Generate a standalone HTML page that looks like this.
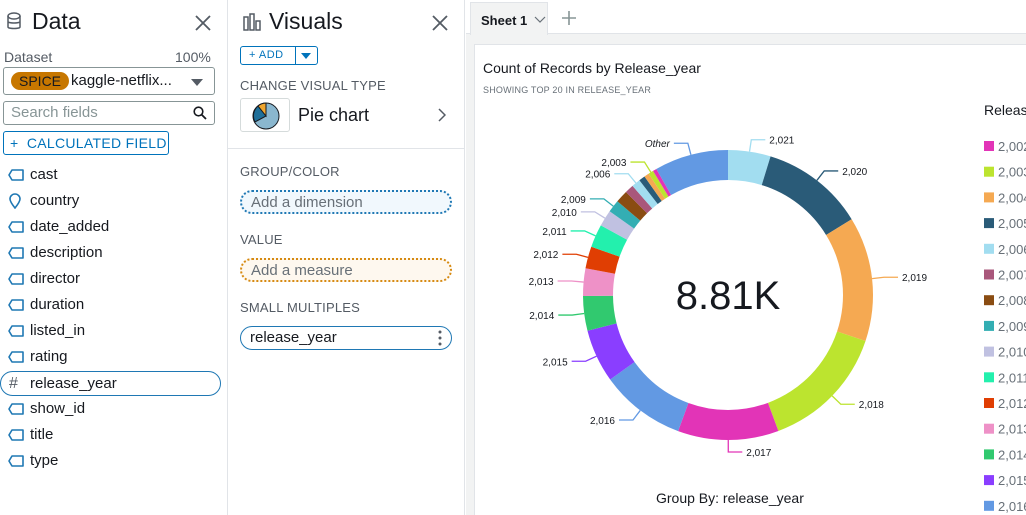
<!DOCTYPE html>
<html><head><meta charset="utf-8">
<style>
*{box-sizing:border-box;margin:0;padding:0}
html,body{width:1026px;height:515px;overflow:hidden}
body{background:#fff;font-family:"Liberation Sans",sans-serif;color:#16191f;position:relative}
.abs{position:absolute}
.field{position:absolute;left:8px;font-size:15px;height:24px;line-height:24px;width:213px;padding-left:22px}
.field svg{position:absolute;left:0;top:6px}
.lbl{font-size:13px;color:#545b64;letter-spacing:.2px}
.well{position:absolute;left:240px;width:212px;height:24px;border-radius:12px;font-size:15px;line-height:21px;padding-left:9px;color:#687078}
</style></head><body>
<svg width="0" height="0" style="position:absolute"><defs><symbol id="tag" viewBox="0 0 16 12"><path d="M4 1H15V11H4L1 6Z" fill="none" stroke="#1f78b4" stroke-width="1.6" stroke-linejoin="round"/></symbol></defs></svg>
<!-- Data panel -->
<div class="abs" style="left:0;top:0;width:228px;height:515px;border-right:1px solid #e1e4e8">
 <svg class="abs" style="left:6px;top:12px" width="18" height="20"><ellipse cx="8" cy="4" rx="6" ry="3" fill="none" stroke="#545b64" stroke-width="1.5"/><path d="M2 4v11c0 2 12 2 12 0V4M2 9.5c0 2 12 2 12 0" fill="none" stroke="#545b64" stroke-width="1.5"/></svg>
 <div class="abs" style="left:32px;top:8px;font-size:23px">Data</div>
 <svg class="abs" style="left:195px;top:15px" width="16" height="16"><path d="M1 1L15 15M15 1L1 15" stroke="#545b64" stroke-width="1.8"/></svg>
 <div class="abs" style="left:4px;top:49px;font-size:14px;color:#545b64">Dataset</div>
 <div class="abs" style="left:175px;top:49px;font-size:14px;color:#545b64">100%</div>
 <div class="abs" style="left:3px;top:67px;width:212px;height:28px;border:1px solid #879596;border-radius:3px">
  <span class="abs" style="left:7px;top:4px;background:#c77700;border-radius:9px;padding:0 8px;font-size:14px;line-height:18px">SPICE</span>
  <span class="abs" style="left:67px;top:4px;font-size:15px">kaggle-netflix...</span>
  <span class="abs" style="left:187px;top:11px;border:6px solid transparent;border-top:7px solid #545b64"></span>
 </div>
 <div class="abs" style="left:3px;top:101px;width:212px;height:24px;border:1px solid #879596;border-radius:3px;font-size:15px;color:#879596;padding-left:7px;line-height:22px">Search fields<svg class="abs" style="right:7px;top:4px" width="14" height="14"><circle cx="5.5" cy="5.5" r="4.3" fill="none" stroke="#16191f" stroke-width="1.6"/><path d="M8.5 8.5L13 13" stroke="#16191f" stroke-width="1.8"/></svg></div>
 <div class="abs" style="left:3px;top:131px;width:166px;height:24px;border:1px solid #0073bb;border-radius:3px;font-size:14px;color:#0073bb;line-height:22px;padding-left:6px;letter-spacing:.3px">+&nbsp; CALCULATED FIELD</div>
 <div class="field" style="top:163px"><svg width="16" height="12"><use href="#tag"/></svg>cast</div>
 <div class="field" style="top:189px"><svg width="14" height="16" style="top:4px"><path d="M7 15C3 10 2 8 2 6A5 5 0 0 1 12 6C12 8 11 10 7 15Z" fill="none" stroke="#1f78b4" stroke-width="1.6"/></svg>country</div>
 <div class="field" style="top:215px"><svg width="16" height="12"><use href="#tag"/></svg>date_added</div>
 <div class="field" style="top:241px"><svg width="16" height="12"><use href="#tag"/></svg>description</div>
 <div class="field" style="top:267px"><svg width="16" height="12"><use href="#tag"/></svg>director</div>
 <div class="field" style="top:293px"><svg width="16" height="12"><use href="#tag"/></svg>duration</div>
 <div class="field" style="top:319px"><svg width="16" height="12"><use href="#tag"/></svg>listed_in</div>
 <div class="field" style="top:345px"><svg width="16" height="12"><use href="#tag"/></svg>rating</div>
 <div class="field" style="top:371px;left:0;padding-left:29px;border:1px solid #1f78b4;border-radius:13px;height:25px;width:221px;line-height:23px"><span class="abs" style="left:8px;top:0;font-size:16px;color:#545b64">#</span>release_year</div>
 <div class="field" style="top:397px"><svg width="16" height="12"><use href="#tag"/></svg>show_id</div>
 <div class="field" style="top:423px"><svg width="16" height="12"><use href="#tag"/></svg>title</div>
 <div class="field" style="top:449px"><svg width="16" height="12"><use href="#tag"/></svg>type</div>
</div>
<!-- Visuals panel -->
<div class="abs" style="left:228px;top:0;width:237px;height:515px;border-right:1px solid #e1e4e8">
 <svg class="abs" style="left:15px;top:13px" width="18" height="18"><g fill="none" stroke="#545b64" stroke-width="1.5"><rect x="1" y="4" width="4" height="13"/><rect x="7" y="1" width="4" height="16"/><rect x="13" y="8" width="4" height="9"/></g></svg>
 <div class="abs" style="left:41px;top:8px;font-size:23px">Visuals</div>
 <svg class="abs" style="left:204px;top:15px" width="16" height="16"><path d="M1 1L15 15M15 1L1 15" stroke="#545b64" stroke-width="1.8"/></svg>
 <div class="abs" style="left:12px;top:46px;width:78px;height:19px;border:1px solid #0073bb;border-radius:3px;font-size:11px;color:#0073bb;line-height:17px;padding-left:8px;letter-spacing:.5px">+ ADD<span class="abs" style="left:54px;top:0;width:1px;height:17px;background:#0073bb"></span><span class="abs" style="left:60px;top:6px;border:5px solid transparent;border-top:6px solid #0073bb"></span></div>
 <div class="abs lbl" style="left:12px;top:78px">CHANGE VISUAL TYPE</div>
 <div class="abs" style="left:12px;top:98px;width:50px;height:34px;border:1px solid #d5dbdb;border-radius:3px">
  <svg width="50" height="34"><circle cx="25" cy="17" r="13" fill="#8ab7cf" stroke="#16191f"/><path d="M25 17L14 23A13 13 0 0 1 17 7Z" fill="#1f6f99" stroke="#16191f"/><path d="M25 17L17 7A13 13 0 0 1 25 4Z" fill="#f0a630" stroke="#16191f"/></svg>
 </div>
 <div class="abs" style="left:70px;top:105px;font-size:18px">Pie chart</div>
 <svg class="abs" style="left:210px;top:108px" width="8" height="14"><path d="M1 1L7 7L1 13" fill="none" stroke="#545b64" stroke-width="1.5"/></svg>
 <div class="abs" style="left:0;top:148px;width:237px;height:1px;background:#e1e4e8"></div>
 <div class="abs lbl" style="left:12px;top:164px">GROUP/COLOR</div>
 <div class="well" style="left:12px;top:190px;border:2px dotted #1f78b4;background:#f1f8fd">Add a dimension</div>
 <div class="abs lbl" style="left:12px;top:232px">VALUE</div>
 <div class="well" style="left:12px;top:258px;border:2px dotted #d68a12;background:#fef8ef">Add a measure</div>
 <div class="abs lbl" style="left:12px;top:300px">SMALL MULTIPLES</div>
 <div class="well" style="left:12px;top:326px;border:1px solid #1f78b4;color:#16191f;line-height:22px">release_year<svg class="abs" style="right:9px;top:3px" width="4" height="16"><circle cx="2" cy="2" r="1.5" fill="#545b64"/><circle cx="2" cy="8" r="1.5" fill="#545b64"/><circle cx="2" cy="14" r="1.5" fill="#545b64"/></svg></div>
</div>
<!-- Sheet area -->
<div class="abs" style="left:466px;top:0;width:560px;height:515px;background:#f2f3f3"></div>
<div class="abs" style="left:466px;top:0;width:560px;height:34px;background:#fff;border-bottom:1px solid #e1e4e8"></div>
<div class="abs" style="left:470px;top:2px;width:78px;height:33px;background:#f2f3f3;border:1px solid #e1e4e8;border-bottom:none;font-size:13px;font-weight:bold;padding:10px 0 0 10px">Sheet 1<svg class="abs" style="left:63px;top:13px" width="12" height="8"><path d="M1 1L6 6L11 1" fill="none" stroke="#687078" stroke-width="1.2"/></svg></div>
<svg class="abs" style="left:562px;top:11px" width="14" height="14"><path d="M7 0V14M0 7H14" stroke="#879596" stroke-width="1.6"/></svg>
<div class="abs" style="left:474px;top:44px;width:560px;height:480px;background:#fff;border:1px solid #e1e4e8"></div>
<div class="abs" style="left:483px;top:60px;font-size:14px">Count of Records by Release_year</div>
<div class="abs" style="left:483px;top:85px;font-size:9px;color:#687078;letter-spacing:.2px">SHOWING TOP 20 IN RELEASE_YEAR</div>
<div class="abs" style="left:656px;top:490px;font-size:14px">Group By: release_year</div>
<svg id="chart" class="abs" style="left:0;top:0" width="1026" height="515"></svg>
<script>
const categories=["2021","2020","2019","2018","2017","2016","2015","2014","2013","2012","2011","2010","2009","2008","2007","2006","2005","2004","2003","2002","Other"];
const values=[416,1010,1218,1247,986,834,521,338,269,215,225,160,122,122,86,86,61,49,49,37,722];
const labels=["2,021","2,020","2,019","2,018","2,017","2,016","2,015","2,014","2,013","2,012","2,011","2,010","2,009","","","2,006","","","2,003","","Other"];
const colors=["#a2ddf0","#2a5b78","#f5a952","#bce42f","#e234b7","#6299e3","#8a3eff","#31c96f","#ee91c7","#e03e03","#23f0ad","#c0c1e1","#33aeb3","#8a4c12","#a9577b","#a2ddf0","#2a5b78","#f5a952","#bce42f","#e234b7","#6299e3"];
const legendCats=["2,002","2,003","2,004","2,005","2,006","2,007","2,008","2,009","2,010","2,011","2,012","2,013","2,014","2,015","2,016"];
const legendColors=["#e234b7","#bce42f","#f5a952","#2a5b78","#a2ddf0","#a9577b","#8a4c12","#33aeb3","#c0c1e1","#23f0ad","#e03e03","#ee91c7","#31c96f","#8a3eff","#6299e3"];
const centerLabel="8.81K";
const svg=document.getElementById('chart');const NS="http://www.w3.org/2000/svg";
const cx=728,cy=295,R=145,r=115;
const total=values.reduce((a,b)=>a+b,0);
function ang(v){return v/total*2*Math.PI;}
function pt(a,rad){return [cx+rad*Math.sin(a),cy-rad*Math.cos(a)];}
function mk(t,attrs){const e=document.createElementNS(NS,t);for(const k in attrs)e.setAttribute(k,attrs[k]);svg.appendChild(e);return e;}
let acc=0;
values.forEach((v,i)=>{
 const a0=ang(acc),a1=ang(acc+v);acc+=v;
 const [x0,y0]=pt(a0,R),[x1,y1]=pt(a1,R),[x2,y2]=pt(a1,r),[x3,y3]=pt(a0,r);
 const lg=(a1-a0)>Math.PI?1:0;
 const p=mk('path',{d:`M${x0} ${y0}A${R} ${R} 0 ${lg} 1 ${x1} ${y1}L${x2} ${y2}A${r} ${r} 0 ${lg} 0 ${x3} ${y3}Z`,fill:colors[i]});
 
 
 if(labels[i]){
  const am=(a0+a1)/2;const [lx0,ly0]=pt(am,R);const [lx1,ly1]=pt(am,R+12);
  const right=Math.sin(am)>=0;const lx2=lx1+(right?14:-14);
  const l=mk('polyline',{points:`${lx0},${ly0} ${lx1},${ly1} ${lx2},${ly1}`,fill:'none',stroke:colors[i],'stroke-width':1.3});
  
  
  const t=mk('text',{x:lx2+(right?4:-4),y:ly1+4,'font-size':10,'text-anchor':right?'start':'end',fill:'#16191f','font-family':'Liberation Sans, sans-serif','font-style':categories[i]==='Other'?'italic':'normal'});
  t.textContent=labels[i];
  
  
 }
});
const ct=mk('text',{x:cx,y:cy+14,'font-size':40,'text-anchor':'middle',fill:'#16191f','font-family':'Liberation Sans, sans-serif'});
ct.textContent=centerLabel;


const lt=mk('text',{x:984,y:115,'font-size':14,fill:'#16191f','font-family':'Liberation Sans, sans-serif'});
lt.textContent="Release_year";


legendCats.forEach((c,i)=>{
 const y=146+i*25.7;
 const s=mk('rect',{x:984,y:y-5,width:10,height:10,fill:legendColors[i]});
 
 
 const t=mk('text',{x:998,y:y+5,'font-size':13,fill:'#687078','font-family':'Liberation Sans, sans-serif'});
 t.textContent=c;
 
 
});
</script>
</body></html>
